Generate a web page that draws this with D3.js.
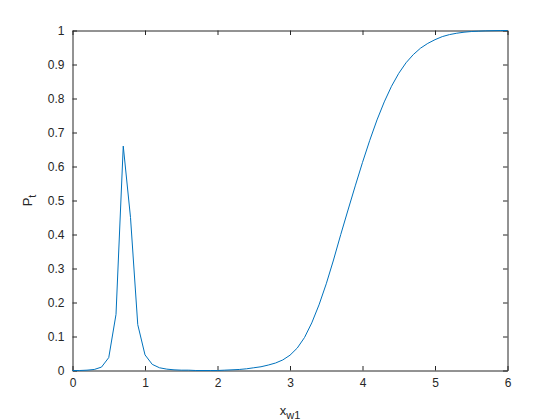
<!DOCTYPE html>
<html>
<head>
<meta charset="utf-8">
<script src="https://cdn.jsdelivr.net/npm/d3@7"></script>
<style>
    body { margin: 0; background: #fff; }
    text { font-family: "Liberation Sans", Arial, sans-serif; fill: #262626; }
</style>
</head>
<body>
<div id="chart"></div>
<script>
// x positions (x_w1) and values (P_t)
let xw1 = [
    0.0, 0.1, 0.2, 0.3, 0.4, 0.5, 0.6, 0.7, 0.8, 0.9,
    1.0, 1.1, 1.2, 1.3, 1.4, 1.5, 1.6, 1.7, 1.8, 1.9,
    2.0, 2.1, 2.2, 2.3, 2.4, 2.5, 2.6, 2.7, 2.8, 2.9,
    3.0, 3.1, 3.2, 3.3, 3.4, 3.5, 3.6, 3.7, 3.8, 3.9,
    4.0, 4.1, 4.2, 4.3, 4.4, 4.5, 4.6, 4.7, 4.8, 4.9,
    5.0, 5.1, 5.2, 5.3, 5.4, 5.5, 5.6, 5.7, 5.8, 5.9, 6.0
];
let pt = [
    0.000, 0.000, 0.001, 0.003, 0.010, 0.038, 0.165, 0.660, 0.450, 0.135,
    0.046, 0.018, 0.008, 0.004, 0.002, 0.001, 0.001, 0.000, 0.000, 0.000,
    0.000, 0.001, 0.002, 0.003, 0.005, 0.008, 0.011, 0.016, 0.022, 0.031,
    0.045, 0.066, 0.097, 0.140, 0.193, 0.255, 0.325, 0.400, 0.472, 0.543,
    0.612, 0.677, 0.737, 0.790, 0.836, 0.874, 0.905, 0.929, 0.948, 0.962,
    0.973, 0.982, 0.988, 0.992, 0.995, 0.997, 0.998, 0.999, 0.9995, 1.000, 1.000
];
let xTicks = [0, 1, 2, 3, 4, 5, 6];
let yTicks = [0, 0.1, 0.2, 0.3, 0.4, 0.5, 0.6, 0.7, 0.8, 0.9, 1];

let config = {
    svg: {width: 560, height: 420},
    plot: {x: 72.5, y: 30.5, width: 435, height: 340},
    tick: 4.5
};

let svg = d3.select("#chart")
    .append("svg")
        .attr("width", config.svg.width)
        .attr("height", config.svg.height);

let plot = svg.append("g")
        .attr("transform", "translate(" + config.plot.x + "," + config.plot.y + ")");

let x = d3.scaleLinear().domain([0, 6]).range([0, config.plot.width]);
let y = d3.scaleLinear().domain([0, 1]).range([config.plot.height, 0]);

let fmt = d => d3.format("~g")(d);

// axes with inward ticks, box on all four sides
let styleAxis = g => g
    .call(g => g.select(".domain").attr("stroke", "#262626"))
    .call(g => g.selectAll(".tick line").attr("stroke", "#262626"))
    .call(g => g.selectAll(".tick text").attr("font-size", 12).attr("fill", "#262626"));

plot.append("g")
    .attr("transform", `translate(0,${config.plot.height})`)
    .call(d3.axisBottom(x).tickValues(xTicks).tickFormat(fmt).tickSizeInner(-config.tick).tickSizeOuter(0).tickPadding(8))
    .call(styleAxis);

plot.append("g")
    .call(d3.axisTop(x).tickValues(xTicks).tickFormat("").tickSizeInner(-config.tick).tickSizeOuter(0))
    .call(styleAxis);

plot.append("g")
    .call(d3.axisLeft(y).tickValues(yTicks).tickFormat(fmt).tickSizeInner(-config.tick).tickSizeOuter(0).tickPadding(8))
    .call(styleAxis);

plot.append("g")
    .attr("transform", `translate(${config.plot.width},0)`)
    .call(d3.axisRight(y).tickValues(yTicks).tickFormat("").tickSizeInner(-config.tick).tickSizeOuter(0))
    .call(styleAxis);

plot.selectAll("text").attr("font-family", null);

// the curve
let line = d3.line()
    .x((d, i) => x(xw1[i]))
    .y(d => y(d));

plot.append("path")
    .datum(pt)
    .attr("fill", "none")
    .attr("stroke", "#0072BD")
    .attr("stroke-width", 1)
    .attr("d", line);

// axis labels
let xLabel = svg.append("text")
    .attr("x", config.plot.x + config.plot.width / 2)
    .attr("y", 415)
    .attr("text-anchor", "middle")
    .attr("font-size", 13);
xLabel.append("tspan").text("x");
xLabel.append("tspan").attr("dy", 4).attr("font-size", 11).text("w1");

let yLabel = svg.append("text")
    .attr("transform", `translate(32,${config.plot.y + config.plot.height / 2}) rotate(-90)`)
    .attr("text-anchor", "middle")
    .attr("font-size", 13);
yLabel.append("tspan").text("P");
yLabel.append("tspan").attr("dy", 4).attr("font-size", 11).text("t");
</script>
</body>
</html>
